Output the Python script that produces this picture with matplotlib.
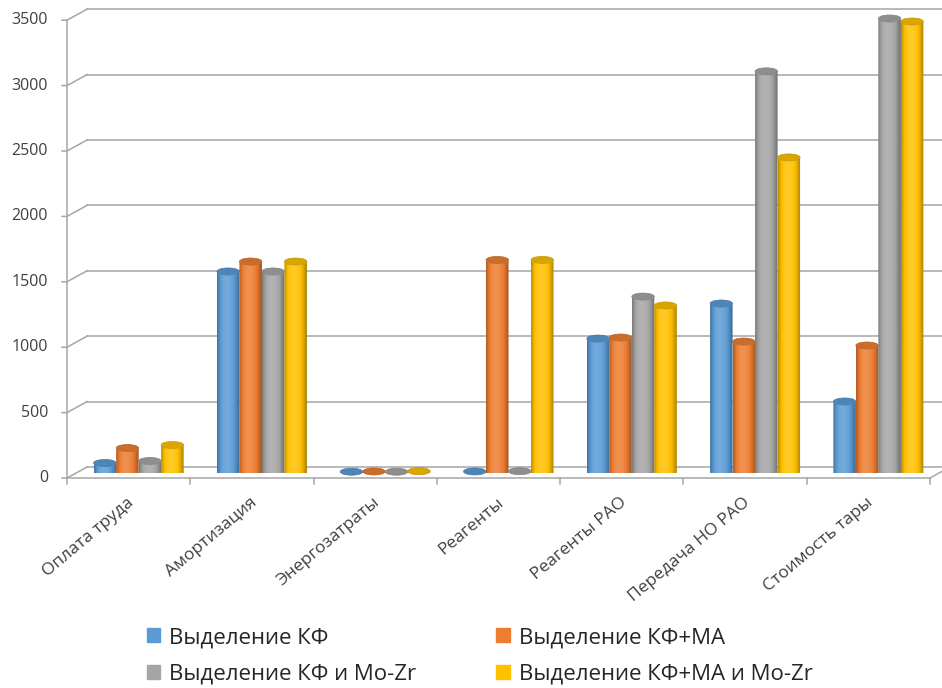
import numpy as np
import matplotlib.pyplot as plt
import matplotlib.colors as mcolors
from matplotlib.path import Path
from matplotlib.patches import PathPatch, Ellipse, Patch
from matplotlib.lines import Line2D
from matplotlib.transforms import ScaledTranslation, IdentityTransform

plt.rcParams['font.family'] = ['Open Sans', 'DejaVu Sans']

categories = ['Оплата труда', 'Амортизация', 'Энергозатраты', 'Реагенты',
              'Реагенты РАО', 'Передача НО РАО', 'Стоимость тары']
series_names = ['Выделение КФ', 'Выделение КФ+МА',
                'Выделение КФ и Mo-Zr', 'Выделение КФ+МА и Mo-Zr']
kf = [73, 1537, 6, 8, 1024, 1292, 543]
kf_ma = [187, 1613, 8, 1625, 1032, 1001, 971]
kf_mozr = [88, 1537, 6, 10, 1345, 3067, 3471]
kf_ma_mozr = [210, 1613, 10, 1625, 1277, 2409, 3448]
colors = ['#5B9BD5', '#ED7D31', '#A5A5A5', '#FFC000']
yticks = [0, 500, 1000, 1500, 2000, 2500, 3000, 3500]

W, H = 942, 688
fig = plt.figure(figsize=(W / 100, H / 100), dpi=100)
ax = fig.add_axes([77 / W, 1 - 472.5 / H, 863 / W, (472.5 - 14.7) / H])
ax.set_xlim(-0.5, 6.5)
ax.set_ylim(0, 3500)
ax.axis('off')


def px(dx, dy):
    return ScaledTranslation(dx / 100, dy / 100, fig.dpi_scale_trans)


back = ax.transData + px(10, 5.5)
front = ax.transData + px(-10, -5.5)
grid_c = '#A6A6A6'
text_c = '#404040'

# back wall gridlines + front axis
for v in yticks:
    ax.plot([-0.5, 6.5], [v, v], color=grid_c, lw=1.1, transform=back,
            clip_on=False, zorder=1)
    p1 = front.transform((-0.5, v))
    p2 = back.transform((-0.5, v))
    fig.add_artist(Line2D([p1[0] - 5, p1[0], p2[0]], [p1[1], p1[1], p2[1]],
                          transform=IdentityTransform(), color=grid_c, lw=1.1))
    ax.text(-0.5, v, str(v), transform=ax.transData + px(-29, -5.5),
            ha='right', va='center', fontsize=11.5, color=text_c)

ax.plot([-0.5, -0.5], [0, 3500], color=grid_c, lw=1.1, transform=front,
        clip_on=False, zorder=1)
ax.plot([-0.5, 6.5], [0, 0], color=grid_c, lw=1.1, transform=front,
        clip_on=False, zorder=1)
p1 = front.transform((6.5, 0))
p2 = back.transform((6.5, 0))
fig.add_artist(Line2D([p1[0], p2[0]], [p1[1], p2[1]],
                      transform=IdentityTransform(), color=grid_c, lw=1.1))
for b in np.arange(-0.5, 7.0, 1.0):
    q = front.transform((b, 0))
    fig.add_artist(Line2D([q[0], q[0]], [q[1], q[1] - 6],
                          transform=IdentityTransform(), color=grid_c, lw=1.1))

for i, name in enumerate(categories):
    ax.text(i, 0, name, transform=ax.transData + px(-7, -28), rotation=40,
            rotation_mode='anchor', ha='right', va='center', fontsize=12.5,
            color=text_c)


def shade(color, n=64):
    rgb = np.array(mcolors.to_rgb(color))
    t = np.linspace(0, 1, n)
    peak = 0.42
    L = np.where(t < peak, 0.15 - 0.42 * ((peak - t) / peak) ** 2,
                 0.15 - 0.5 * ((t - peak) / (1 - peak)) ** 2)[:, None]
    out = np.where(L < 0, rgb * (1 + L), rgb + (1 - rgb) * L)
    return np.clip(out, 0, 1)[None, :, :]


def body_path(xc, hw, top, hh, n=30):
    t = np.linspace(0, np.pi, n)
    bottom = np.c_[xc - hw * np.cos(t), -hh * np.sin(t)]
    upper = np.c_[xc + hw * np.cos(t), top - hh * np.sin(t)]
    return Path(np.vstack([bottom, upper, bottom[:1]]), closed=True)


bw = 0.1825
hh = 3.5 / (ax.bbox.height / 3500)
x = np.arange(len(categories))
data = [kf, kf_ma, kf_mozr, kf_ma_mozr]

for k, (vals, c) in enumerate(zip(data, colors)):
    bars = ax.bar(x + (k - 1.5) * bw, vals, width=bw, color='none',
                  edgecolor='none')
    grad = shade(c)
    cap = np.array(mcolors.to_rgb(c)) * 0.86
    for r in bars:
        x0, w, top = r.get_x(), r.get_width(), r.get_height()
        xc = x0 + w / 2
        im = ax.imshow(grad, extent=[x0, x0 + w, -hh, top + hh],
                       aspect='auto', interpolation='bilinear', zorder=3)
        im.set_clip_path(PathPatch(body_path(xc, w / 2, top, hh),
                                   transform=ax.transData))
        im.set_clip_box(None)
        ax.add_patch(Ellipse((xc, top), w, 2 * hh, facecolor=cap,
                             edgecolor=cap * 0.9, lw=0.5, clip_on=False,
                             zorder=3.1))

ax.set_xlim(-0.5, 6.5)
ax.set_ylim(0, 3500)

order = [0, 2, 1, 3]
handles = [Patch(color=colors[k]) for k in order]
fig.legend(handles, [series_names[k] for k in order], ncol=2,
           loc='upper left', bbox_to_anchor=(147 / W, 1 - 627 / H),
           frameon=False, fontsize=16, handlelength=0.6, handleheight=0.6,
           handletextpad=0.4, columnspacing=3.6, labelspacing=0.7,
           borderpad=0, borderaxespad=0, labelcolor='#262626')

fig.savefig('out.png', dpi=100)
